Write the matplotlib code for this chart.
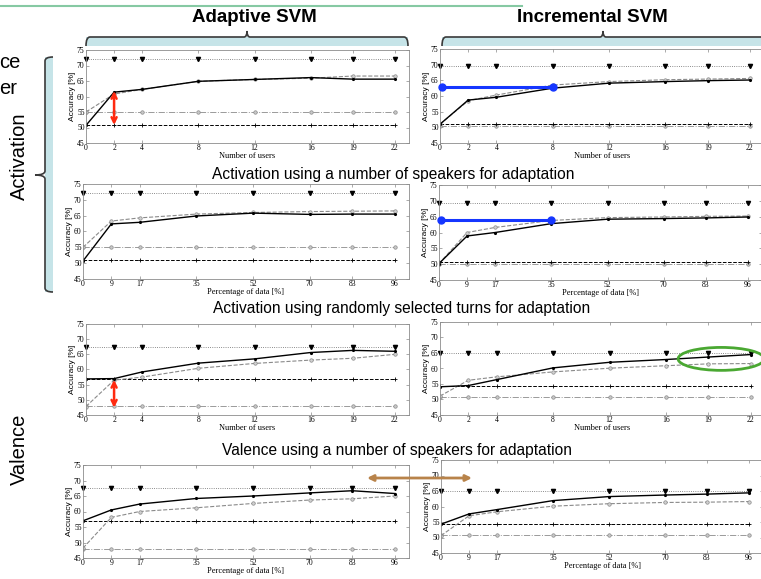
import matplotlib
matplotlib.use('Agg')
import matplotlib.pyplot as plt
from matplotlib.patches import Rectangle, Ellipse, PathPatch
from matplotlib.path import Path

plt.rcParams['font.family'] = ['Liberation Serif', 'DejaVu Serif']

# ---------------- data ----------------
users = [0, 2, 4, 8, 12, 16, 19, 22]
user_labels = ['0', '2', '4', '8', '12', '16', '19', '22']
pct_labels = ['0', '9', '17', '35', '52', '70', '83', '96']
yticks = [45, 50, 55, 60, 65, 70, 75]

# Activation, number of speakers, Adaptive SVM
a_spk_asvm_solid = [50.7, 61.4, 62.3, 64.9, 65.5, 66.1, 65.6, 65.6]
a_spk_asvm_dash = [55.0, 60.8, 62.3, 64.9, 65.5, 65.9, 66.6, 66.6]
a_spk_asvm_tri = [72.2, 72.2, 72.2, 72.2, 72.2, 72.2, 72.2, 72.2]
a_spk_asvm_circ = [55.0, 55.0, 55.0, 55.0, 55.0, 55.0, 55.0, 55.0]
a_spk_asvm_plus = [50.9, 50.9, 50.9, 50.9, 50.9, 50.9, 50.9, 50.9]

# Activation, number of speakers, Incremental SVM
a_spk_isvm_solid = [51.0, 58.7, 59.6, 62.5, 64.1, 64.6, 64.9, 65.1]
a_spk_isvm_dash = [51.0, 58.5, 60.3, 63.5, 64.6, 65.2, 65.4, 65.6]
a_spk_isvm_tri = [69.5, 69.5, 69.5, 69.5, 69.5, 69.5, 69.5, 69.5]
a_spk_isvm_circ = [50.3, 50.3, 50.3, 50.3, 50.3, 50.3, 50.3, 50.3]
a_spk_isvm_plus = [51.2, 51.2, 51.2, 51.2, 51.2, 51.2, 51.2, 51.2]

# Activation, percentage of data, Adaptive SVM
a_pct_asvm_solid = [50.7, 62.4, 62.9, 64.9, 65.8, 65.4, 65.5, 65.5]
a_pct_asvm_dash = [55.0, 63.3, 64.3, 65.5, 66.0, 66.3, 66.4, 66.5]
a_pct_asvm_tri = [72.2, 72.2, 72.2, 72.2, 72.2, 72.2, 72.2, 72.2]
a_pct_asvm_circ = [55.0, 55.0, 55.0, 55.0, 55.0, 55.0, 55.0, 55.0]
a_pct_asvm_plus = [50.9, 50.9, 50.9, 50.9, 50.9, 50.9, 50.9, 50.9]

# Activation, percentage of data, Incremental SVM
a_pct_isvm_solid = [50.2, 58.9, 60.0, 62.8, 64.2, 64.4, 64.6, 64.9]
a_pct_isvm_dash = [50.2, 60.0, 61.6, 63.8, 64.7, 64.9, 65.1, 65.2]
a_pct_isvm_tri = [69.3, 69.3, 69.3, 69.3, 69.3, 69.3, 69.3, 69.3]
a_pct_isvm_circ = [50.2, 50.2, 50.2, 50.2, 50.2, 50.2, 50.2, 50.2]
a_pct_isvm_plus = [50.7, 50.7, 50.7, 50.7, 50.7, 50.7, 50.7, 50.7]

# Valence, number of speakers, Adaptive SVM
v_spk_asvm_solid = [56.9, 57.0, 59.2, 62.1, 63.5, 65.6, 66.3, 66.0]
v_spk_asvm_dash = [47.8, 56.5, 57.5, 60.4, 62.0, 63.1, 63.7, 65.0]
v_spk_asvm_tri = [67.5, 67.5, 67.5, 67.5, 67.5, 67.5, 67.5, 67.5]
v_spk_asvm_circ = [47.9, 47.9, 47.9, 47.9, 47.9, 47.9, 47.9, 47.9]
v_spk_asvm_plus = [57.0, 57.0, 57.0, 57.0, 57.0, 57.0, 57.0, 57.0]

# Valence, number of speakers, Incremental SVM
v_spk_isvm_solid = [54.1, 54.5, 56.4, 60.2, 62.0, 62.9, 63.7, 64.5]
v_spk_isvm_dash = [51.1, 56.2, 57.3, 58.9, 60.1, 60.9, 61.5, 61.6]
v_spk_isvm_tri = [65.0, 65.0, 65.0, 65.0, 65.0, 65.0, 65.0, 65.0]
v_spk_isvm_circ = [50.7, 50.7, 50.7, 50.7, 50.7, 50.7, 50.7, 50.7]
v_spk_isvm_plus = [54.2, 54.2, 54.2, 54.2, 54.2, 54.2, 54.2, 54.2]

# Valence, percentage of data, Adaptive SVM
v_pct_asvm_solid = [57.0, 60.5, 62.4, 64.2, 65.0, 66.0, 66.7, 65.8]
v_pct_asvm_dash = [48.2, 58.1, 60.0, 61.2, 62.6, 63.7, 64.1, 65.0]
v_pct_asvm_tri = [67.5, 67.5, 67.5, 67.5, 67.5, 67.5, 67.5, 67.5]
v_pct_asvm_circ = [47.9, 47.9, 47.9, 47.9, 47.9, 47.9, 47.9, 47.9]
v_pct_asvm_plus = [57.0, 57.0, 57.0, 57.0, 57.0, 57.0, 57.0, 57.0]

# Valence, percentage of data, Incremental SVM
v_pct_isvm_solid = [54.3, 57.6, 59.0, 61.9, 63.2, 63.7, 64.0, 64.4]
v_pct_isvm_dash = [50.6, 57.0, 58.3, 60.1, 60.9, 61.3, 61.4, 61.6]
v_pct_isvm_tri = [65.0, 65.0, 65.0, 65.0, 65.0, 65.0, 65.0, 65.0]
v_pct_isvm_circ = [50.7, 50.7, 50.7, 50.7, 50.7, 50.7, 50.7, 50.7]
v_pct_isvm_plus = [54.3, 54.3, 54.3, 54.3, 54.3, 54.3, 54.3, 54.3]

# highlight annotations (data coordinates)
blue_span = [0.15, 8]
blue_level_spk = 63.0
blue_level_pct = 63.8
red_span_act = [61.8, 50.8]
red_span_val = [56.6, 47.4]

# ---------------- figure ----------------
W, H = 761, 579
fig = plt.figure(figsize=(W / 100, H / 100), dpi=100)
fig.patch.set_facecolor('white')


def px_axes(x0, y0, x1, y1):
    return fig.add_axes([x0 / W, 1 - y1 / H, (x1 - x0) / W, (y1 - y0) / H])


def draw(ax, solid, dash, tri, circ, plus, labels, xlabel):
    ax.plot(users, tri, ls=':', color='#666666', lw=0.6, marker='v', ms=3,
            mfc='black', mec='black', clip_on=False)
    ax.plot(users, circ, ls='-.', color='#9a9a9a', lw=0.7, marker='o', ms=2.5,
            mfc='#c8c8c8', mec='#8a8a8a', mew=0.5)
    ax.plot(users, plus, ls='--', color='black', lw=0.7, marker='+', ms=3.5, mew=0.6)
    ax.plot(users, dash, ls='--', color='#8a8a8a', lw=0.8, marker='o', ms=2.5,
            mfc='#d0d0d0', mec='#8a8a8a', mew=0.5)
    ax.plot(users, solid, ls='-', color='black', lw=1.0, marker='.', ms=2.5)
    ax.set_xlim(0, 23)
    ax.set_ylim(45, 75)
    ax.set_xticks(users)
    ax.set_xticklabels(labels)
    ax.set_yticks(yticks)
    ax.tick_params(direction='in', top=True, right=True, length=2.5, width=0.5,
                   color='#888888', labelsize=5.5, pad=1)
    for s in ax.spines.values():
        s.set_color('#8c8c8c')
        s.set_linewidth(0.6)
    ax.set_xlabel(xlabel, fontsize=6, labelpad=0)
    ax.set_ylabel('Accuracy [%]', fontsize=6, labelpad=1, family='Liberation Sans')


ax1 = px_axes(86, 50, 409, 143)
ax2 = px_axes(440, 49, 764, 143)
ax3 = px_axes(83, 184, 409, 279)
ax4 = px_axes(439, 185, 762, 280)
ax5 = px_axes(86, 324, 409, 415)
ax6 = px_axes(440, 322, 765, 415)
ax7 = px_axes(83, 465, 409, 558)
ax8 = px_axes(441, 460, 763, 553)

xl_u = 'Number of users'
xl_p = 'Percentage of data [%]'
draw(ax1, a_spk_asvm_solid, a_spk_asvm_dash, a_spk_asvm_tri, a_spk_asvm_circ, a_spk_asvm_plus, user_labels, xl_u)
draw(ax2, a_spk_isvm_solid, a_spk_isvm_dash, a_spk_isvm_tri, a_spk_isvm_circ, a_spk_isvm_plus, user_labels, xl_u)
draw(ax3, a_pct_asvm_solid, a_pct_asvm_dash, a_pct_asvm_tri, a_pct_asvm_circ, a_pct_asvm_plus, pct_labels, xl_p)
draw(ax4, a_pct_isvm_solid, a_pct_isvm_dash, a_pct_isvm_tri, a_pct_isvm_circ, a_pct_isvm_plus, pct_labels, xl_p)
draw(ax5, v_spk_asvm_solid, v_spk_asvm_dash, v_spk_asvm_tri, v_spk_asvm_circ, v_spk_asvm_plus, user_labels, xl_u)
draw(ax6, v_spk_isvm_solid, v_spk_isvm_dash, v_spk_isvm_tri, v_spk_isvm_circ, v_spk_isvm_plus, user_labels, xl_u)
draw(ax7, v_pct_asvm_solid, v_pct_asvm_dash, v_pct_asvm_tri, v_pct_asvm_circ, v_pct_asvm_plus, pct_labels, xl_p)
draw(ax8, v_pct_isvm_solid, v_pct_isvm_dash, v_pct_isvm_tri, v_pct_isvm_circ, v_pct_isvm_plus, pct_labels, xl_p)

# blue highlight lines
for ax, lvl in ((ax2, blue_level_spk), (ax4, blue_level_pct)):
    ax.plot(blue_span, [lvl, lvl], color='#1536ff', lw=2.2, marker='o', ms=5,
            zorder=6, clip_on=False)

# red double arrows
for ax, span in ((ax1, red_span_act), (ax5, red_span_val)):
    ax.annotate('', xy=(2, span[0]), xytext=(2, span[1]),
                arrowprops=dict(arrowstyle='<->', color='#ff2a10', lw=1.8,
                                mutation_scale=9, shrinkA=0, shrinkB=0), zorder=7)

# green ellipse
ax6.add_patch(Ellipse((19.9, 63.1), 6.1, 7.4, fill=False, ec='#4aa832', lw=2,
                      zorder=7, clip_on=False))

# ---------------- slide overlay ----------------
ov = fig.add_axes([0, 0, 1, 1], zorder=10)
ov.set_xlim(0, W)
ov.set_ylim(H, 0)
ov.axis('off')
ov.patch.set_visible(False)

ov.plot([0, 522], [6, 6], color='#86c9a3', lw=1.5)

SANS = 'Liberation Sans'
ov.text(254, 17, 'Adaptive SVM', ha='center', va='center', fontsize=13.5,
        fontweight='bold', family=SANS)
ov.text(592, 17, 'Incremental SVM', ha='center', va='center', fontsize=13.5,
        fontweight='bold', family=SANS)

ov.text(393, 174, 'Activation using a number of speakers for adaptation',
        ha='center', va='center', fontsize=11.2, family=SANS)
ov.text(402, 308, 'Activation using randomly selected turns for adaptation',
        ha='center', va='center', fontsize=11.2, family=SANS)
ov.text(397, 451, 'Valence using a number of speakers for adaptation',
        ha='center', va='center', fontsize=11.2, family=SANS)

ov.text(19, 156, 'Activation', rotation=90, ha='center', va='center',
        fontsize=14.5, family=SANS)
ov.text(19, 449, 'Valence', rotation=90, ha='center', va='center',
        fontsize=14.5, family=SANS)
ov.text(-1, 63, 'ce', ha='left', va='center', fontsize=14.5, family=SANS)
ov.text(-1, 89, 'er', ha='left', va='center', fontsize=14.5, family=SANS)

BLUE_FILL = '#c6e4e8'
BR = '#3a3a3a'


def hbracket(x0, x1, xt, ytop, ybot, ytip):
    ov.add_patch(Rectangle((x0, ytop), x1 - x0, ybot - ytop, fc=BLUE_FILL, ec='none'))
    verts = [(x0, ybot), (x0, ytop), (x0 + 4, ytop),
             (xt - 3, ytop), (xt, ytop), (xt, ytip),
             (xt, ytop), (xt + 3, ytop),
             (x1 - 4, ytop), (x1, ytop), (x1, ybot)]
    codes = [Path.MOVETO, Path.CURVE3, Path.CURVE3,
             Path.LINETO, Path.CURVE3, Path.CURVE3,
             Path.CURVE3, Path.CURVE3,
             Path.LINETO, Path.CURVE3, Path.CURVE3]
    ov.add_patch(PathPatch(Path(verts, codes), fc='none', ec=BR, lw=1.2))


hbracket(86, 408, 247, 37, 46, 31)
hbracket(442, 800, 603, 37, 46, 31)

# vertical bracket for Activation
ov.add_patch(Rectangle((45, 57), 8, 235, fc=BLUE_FILL, ec='none'))
vverts = [(53, 57), (45, 57), (45, 61),
          (45, 171), (45, 175), (35, 175),
          (45, 175), (45, 179),
          (45, 288), (45, 292), (53, 292)]
vcodes = [Path.MOVETO, Path.CURVE3, Path.CURVE3,
          Path.LINETO, Path.CURVE3, Path.CURVE3,
          Path.CURVE3, Path.CURVE3,
          Path.LINETO, Path.CURVE3, Path.CURVE3]
ov.add_patch(PathPatch(Path(vverts, vcodes), fc='none', ec=BR, lw=1.2))

# brown double arrow between valence/data panels
ov.annotate('', xy=(367, 478), xytext=(472, 478),
            arrowprops=dict(arrowstyle='<|-|>', color='#b8834a', lw=2,
                            mutation_scale=9, shrinkA=0, shrinkB=0))

fig.savefig('out.png', dpi=100)
